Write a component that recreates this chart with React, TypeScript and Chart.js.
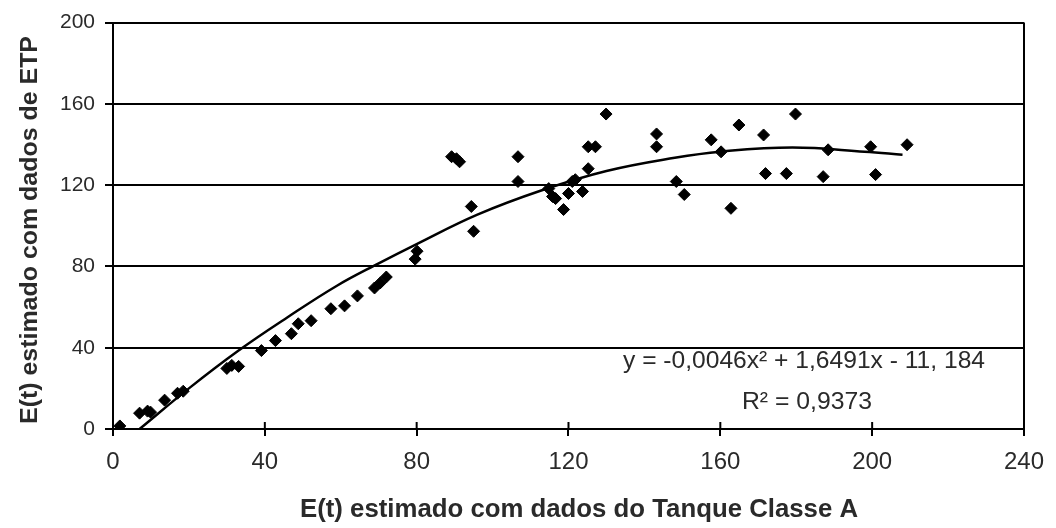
import React, { useEffect, useRef } from 'react';
import { Chart, registerables } from 'chart.js';

Chart.register(...registerables);

const xTickValues = [0, 40, 80, 120, 160, 200, 240];
const yTickValues = [0, 40, 80, 120, 160, 200];

const xTitle = 'E(t) estimado com dados do Tanque Classe A';
const yTitle = 'E(t) estimado com dados de ETP';
const equationText = 'y = -0,0046x² + 1,6491x - 11, 184';
const r2Text = 'R² = 0,9373';

const tanqueX = [1.8, 7.0, 9.1, 9.9, 13.6, 17.0, 18.5, 30.0, 31.3, 33.1, 39.1, 42.8, 47.0, 48.8, 52.2, 57.4, 61.0, 64.4, 68.9, 70.4, 72.0, 80.1, 79.6, 89.2, 90.5, 91.3, 94.4, 95.0, 106.7, 106.7, 114.8, 115.8, 116.6, 118.7, 120.0, 121.0, 121.8, 123.7, 125.2, 125.2, 127.1, 129.9, 143.2, 143.2, 148.4, 150.5, 157.6, 160.2, 162.8, 164.9, 171.4, 171.9, 177.4, 179.8, 187.1, 188.4, 199.6, 200.9, 209.2];
const etpY = [1.5, 7.8, 8.8, 8.3, 14.2, 17.6, 18.6, 29.8, 31.3, 30.8, 38.6, 43.5, 46.9, 51.8, 53.3, 59.2, 60.6, 65.5, 69.4, 71.9, 74.8, 87.5, 83.6, 134, 133, 131.5, 109.5, 97.3, 134, 121.8, 118.3, 114.4, 113.4, 108, 115.9, 121.8, 122.7, 116.9, 128.1, 138.9, 138.9, 155, 145.2, 138.9, 121.8, 115.4, 142.3, 136.4, 108.6, 149.6, 144.7, 125.7, 125.7, 155, 124.2, 137.4, 138.9, 125.2, 139.9];

const trendX = [7, 20, 33, 46, 59, 70, 80, 96, 113, 130, 148, 160, 179, 198, 208];
const trendY = [0, 20, 38.5, 55, 70.5, 81.5, 91, 105.5, 117.5, 127, 133.5, 136.5, 138.5, 136.5, 135];

const FONT = "'Liberation Sans', Arial, sans-serif";
const TEXT_COLOR = '#2a2a2a';

function drawFitted(ctx: CanvasRenderingContext2D, text: string, font: string, cx: number, cy: number, target: number, angle: number) {
  ctx.save();
  ctx.translate(cx, cy);
  ctx.rotate(angle);
  ctx.font = font;
  const w = ctx.measureText(text).width;
  ctx.scale(target / w, 1);
  ctx.textAlign = 'center';
  ctx.textBaseline = 'middle';
  ctx.fillStyle = TEXT_COLOR;
  ctx.fillText(text, 0, 0);
  ctx.restore();
}

const overlayPlugin = {
  id: 'overlayPlugin',
  afterDraw(chart: any) {
    const { ctx, chartArea, scales } = chart;
    ctx.save();
    ctx.strokeStyle = '#000';
    ctx.lineWidth = 2;
    for (const v of xTickValues) {
      const px = scales.x.getPixelForValue(v);
      ctx.beginPath();
      ctx.moveTo(px, chartArea.bottom);
      ctx.lineTo(px, chartArea.bottom - 7);
      ctx.stroke();
    }
    ctx.restore();
    drawFitted(ctx, xTitle, `bold 25px ${FONT}`, 579, 510, 558, 0);
    drawFitted(ctx, yTitle, `bold 24px ${FONT}`, 30, 230, 388, -Math.PI / 2);
    drawFitted(ctx, equationText, `24px ${FONT}`, 804, 361, 362, 0);
    drawFitted(ctx, r2Text, `24px ${FONT}`, 807, 402, 130, 0);
  },
};

export default function App() {
  const ref = useRef<HTMLCanvasElement | null>(null);
  useEffect(() => {
    if (!ref.current) return;
    const points = tanqueX.map((x, i) => ({ x, y: etpY[i] }));
    const trend = trendX.map((x, i) => ({ x, y: trendY[i] }));
    const chart = new Chart(ref.current, {
      type: 'scatter',
      data: {
        datasets: [
          {
            label: 'Trend',
            data: trend,
            showLine: true,
            borderColor: '#000',
            borderWidth: 2.5,
            pointRadius: 0,
            tension: 0.4,
            order: 1,
          } as any,
          {
            label: 'Dados',
            data: points,
            pointStyle: 'rectRot',
            pointRadius: 6,
            pointBackgroundColor: '#000',
            pointBorderColor: '#000',
            pointBorderWidth: 1,
            order: 2,
          } as any,
        ],
      },
      options: {
        animation: false,
        responsive: false,
        devicePixelRatio: 1,
        layout: { padding: { left: 0, top: 20, right: 23, bottom: 0 } },
        plugins: { legend: { display: false }, tooltip: { enabled: false } },
        scales: {
          x: {
            type: 'linear',
            min: 0,
            max: 240,
            afterBuildTicks: (s: any) => { s.ticks = xTickValues.map((v) => ({ value: v })); },
            afterFit: (s: any) => { s.height = 99; },
            ticks: { color: TEXT_COLOR, font: { family: FONT, size: 24 }, padding: 12, maxRotation: 0 },
            grid: {
              color: (c: any) => (c.tick && c.tick.value === 240 ? '#000' : 'rgba(0,0,0,0)'),
              lineWidth: 2,
              tickColor: '#000',
              tickWidth: 2,
              tickLength: 7,
            },
            border: { color: '#000', width: 2 },
          },
          y: {
            type: 'linear',
            min: 0,
            max: 200,
            afterBuildTicks: (s: any) => { s.ticks = yTickValues.map((v) => ({ value: v })); },
            afterFit: (s: any) => { s.width = 113; },
            ticks: { color: TEXT_COLOR, font: { family: FONT, size: 21 }, padding: 10 },
            grid: { color: '#000', lineWidth: 2, tickColor: '#000', tickWidth: 2, tickLength: 8 },
            border: { color: '#000', width: 2 },
          },
        },
      } as any,
      plugins: [overlayPlugin],
    });
    return () => chart.destroy();
  }, []);
  return (
    <div style={{ position: 'fixed', left: 0, top: 0, width: 1056, height: 528, background: '#fff' }}>
      <canvas ref={ref} width={1056} height={528} />
    </div>
  );
}
